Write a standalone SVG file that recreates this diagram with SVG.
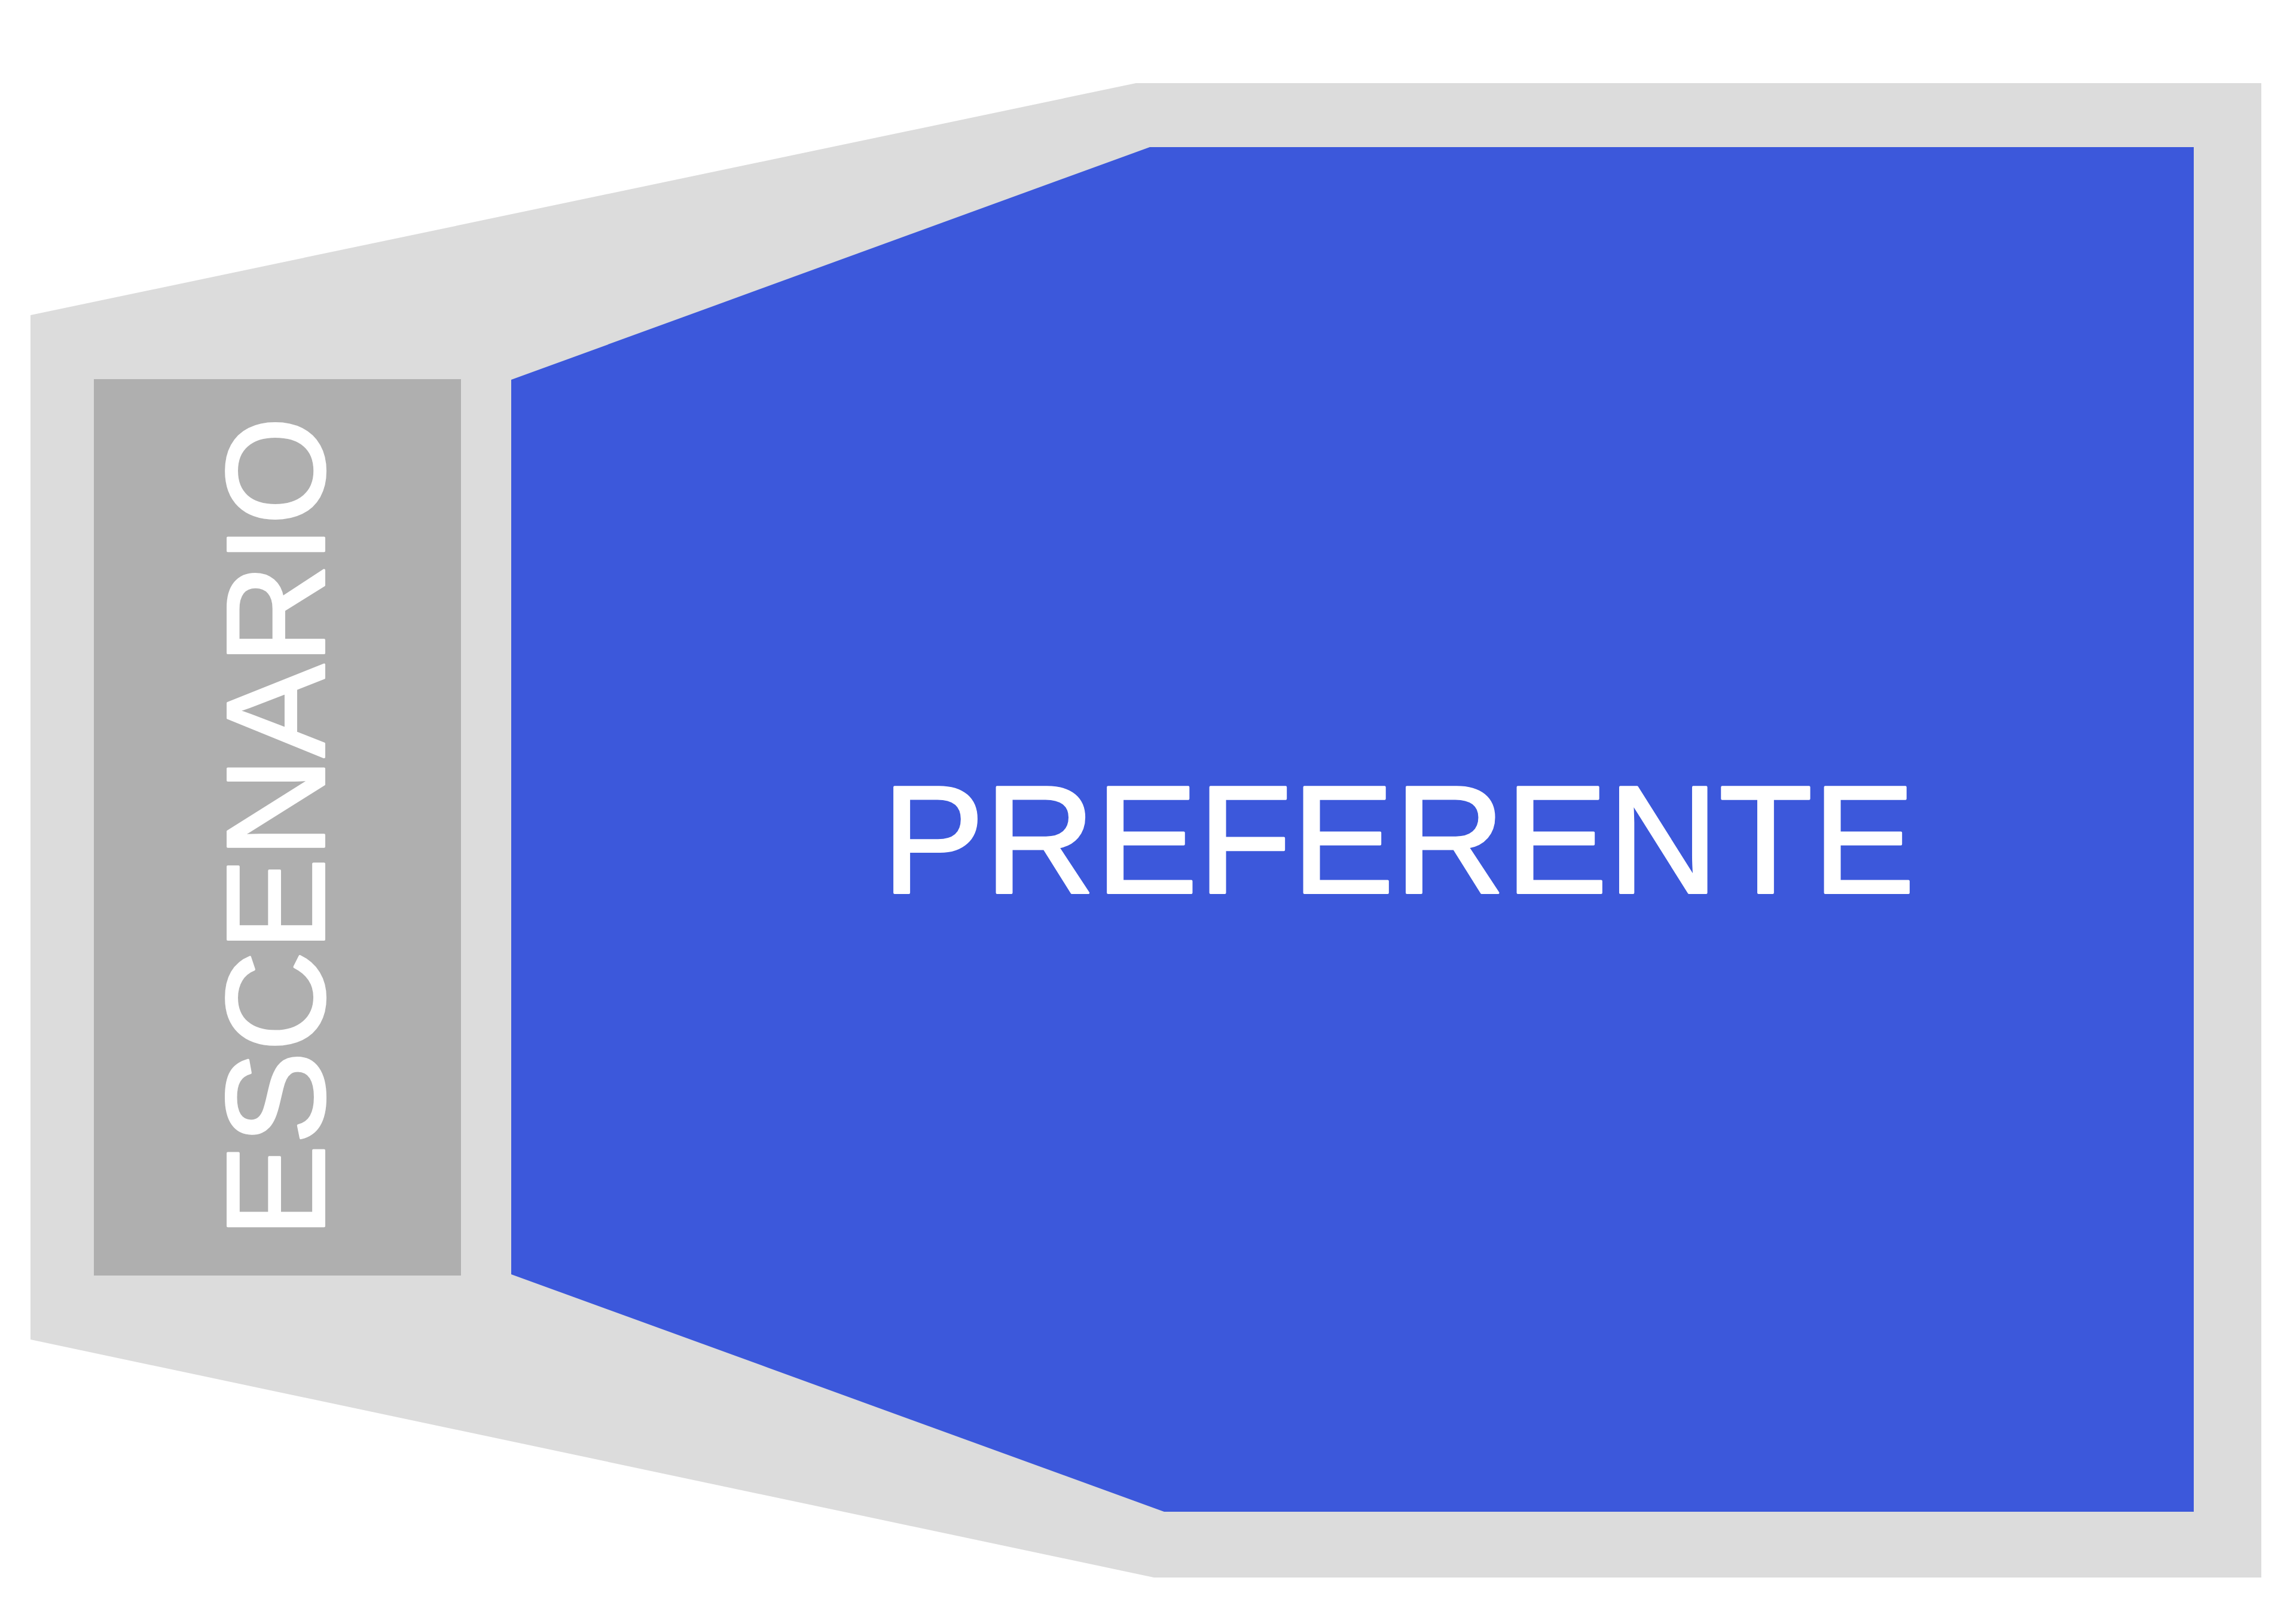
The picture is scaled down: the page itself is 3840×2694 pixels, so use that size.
<svg xmlns="http://www.w3.org/2000/svg" width="3840" height="2694" viewBox="0 0 3840 2694">
<style>
.lbl{font-family:"Liberation Sans",Arial,sans-serif;fill:#ffffff;stroke:#ffffff;stroke-width:4;stroke-linejoin:round;text-anchor:middle}
</style>
<rect width="3840" height="2694" fill="#ffffff"/>
<g id="venue">
<polygon points="51,527 1900,139 3782,139 3782,2638 1930,2638 51,2240" fill="#dcdcdc"/>
</g>
<g id="escenario">
<rect x="157" y="634" width="614" height="1499" fill="#afafaf"/>
<text class="lbl" font-size="233" transform="translate(542,1383) rotate(-90)">ESCENARIO</text>
</g>
<g id="preferente">
<polygon points="855,635 1923,246 3669,246 3669,2528 1947,2528 855,2131" fill="#3c58db"/>
<text class="lbl" font-size="257" x="2339" y="1493">PREFERENTE</text>
</g>
<g id="connectors"/>
</svg>
